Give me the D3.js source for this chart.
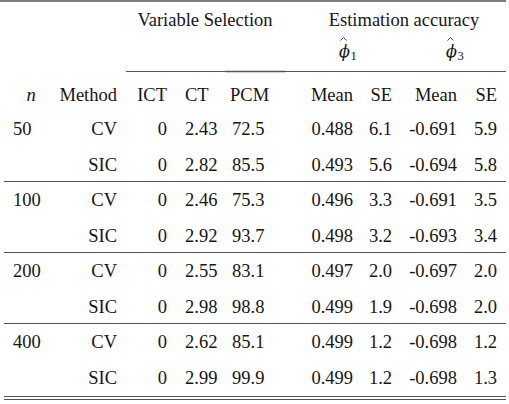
<!DOCTYPE html>
<html>
<head>
    <script src="https://cdn.jsdelivr.net/npm/d3@7"></script>
    <style>
        body {
            margin: 0;
            background: white;
        }
        svg text {
            font-family: "Liberation Serif", "DejaVu Serif", serif;
            font-size: 18.5px;
            fill: #151515;
        }
    </style>
</head>
<body>
<svg id="table"></svg>
<script>
    // table values, one array per column
    let sampleSizes = ["50", "", "100", "", "200", "", "400", ""];
    let methods = ["CV", "SIC", "CV", "SIC", "CV", "SIC", "CV", "SIC"];
    let ict = ["0", "0", "0", "0", "0", "0", "0", "0"];
    let ct = ["2.43", "2.82", "2.46", "2.92", "2.55", "2.98", "2.62", "2.99"];
    let pcm = ["72.5", "85.5", "75.3", "93.7", "83.1", "98.8", "85.1", "99.9"];
    let phi1Mean = ["0.488", "0.493", "0.496", "0.498", "0.497", "0.499", "0.499", "0.499"];
    let phi1SE = ["6.1", "5.6", "3.3", "3.2", "2.0", "1.9", "1.2", "1.2"];
    let phi3Mean = ["-0.691", "-0.694", "-0.691", "-0.693", "-0.697", "-0.698", "-0.698", "-0.698"];
    let phi3SE = ["5.9", "5.8", "3.5", "3.4", "2.0", "2.0", "1.2", "1.3"];
    let columnHeaders = ["n", "Method", "ICT", "CT", "PCM", "Mean", "SE", "Mean", "SE"];
    let groupHeaders = ["Variable Selection", "Estimation accuracy"];
    let phiSubscripts = ["1", "3"];

    function getConfig() {
        let width = 509;
        let height = 404;
        let container = d3.select("#table")
            .attr("width", width)
            .attr("height", height);
        return { width, height, container };
    }

    function getScales() {
        // row index -> text baseline
        let yScale = d3.scaleLinear()
            .domain([0, 7])
            .range([135, 384]);

        // column key -> x anchor
        let keys = ["n", "method", "ict", "ct", "pcm", "m1", "se1", "m3", "se3"];
        let xScale = d3.scaleOrdinal()
            .domain(keys)
            .range([13, 117, 167, 185, 232, 353, 392, 457, 497]);
        let anchor = d3.scaleOrdinal()
            .domain(keys)
            .range(["start", "end", "end", "start", "start", "end", "end", "end", "end"]);

        return { yScale, xScale, anchor, keys };
    }

    function drawRules(config) {
        let { container } = config;
        let rules = [
            { x1: 0, x2: 506, y: 1, w: 1.6 },
            { x1: 126, x2: 506, y: 71.5, w: 1 },
            { x1: 225, x2: 285, y: 71.5, w: 1.5 },
            { x1: 4, x2: 506, y: 181.5, w: 1 },
            { x1: 4, x2: 506, y: 252.5, w: 1 },
            { x1: 4, x2: 506, y: 323.5, w: 1 },
            { x1: 4, x2: 506, y: 396.5, w: 1 },
            { x1: 4, x2: 506, y: 399.5, w: 1 }
        ];
        container.selectAll(".rule")
            .data(rules)
            .enter().append("line")
            .attr("class", "rule")
            .attr("x1", d => d.x1)
            .attr("x2", d => d.x2)
            .attr("y1", d => d.y)
            .attr("y2", d => d.y)
            .style("stroke", "#555")
            .style("stroke-width", d => d.w);
    }

    function drawHeaders(scales, config) {
        let { container } = config;
        let { xScale, anchor, keys } = scales;

        container.selectAll(".group")
            .data(groupHeaders)
            .enter().append("text")
            .attr("class", "group")
            .attr("x", (d, i) => [205, 404][i])
            .attr("y", 26)
            .style("text-anchor", "middle")
            .text(d => d);

        // phi hat headers: symbol, drawn hat, subscript
        let phi = container.selectAll(".phi")
            .data(phiSubscripts)
            .enter().append("g")
            .attr("class", "phi")
            .attr("transform", (d, i) => `translate(${[350, 457][i]},57)`);
        phi.append("text")
            .attr("x", 0)
            .attr("y", 0)
            .style("font-style", "italic")
            .style("font-family", "'DejaVu Serif', serif")
            .style("font-size", "16px")
            .style("text-anchor", "end")
            .text("\u03D5");
        phi.append("path")
            .attr("d", "M-9.5,-16.5 L-6.5,-19.5 L-3.5,-16.5")
            .style("fill", "none")
            .style("stroke", "#333")
            .style("stroke-width", 0.9);
        phi.append("text")
            .attr("x", 0.5)
            .attr("y", 3)
            .style("font-size", "12.5px")
            .text(d => d);

        container.selectAll(".colhead")
            .data(columnHeaders)
            .enter().append("text")
            .attr("class", "colhead")
            .attr("x", (d, i) => i == 0 ? 31 : (i == 4 ? 230 : xScale(keys[i])))
            .attr("y", 101)
            .style("text-anchor", (d, i) => i == 0 ? "middle" : anchor(keys[i]))
            .style("font-style", (d, i) => i == 0 ? "italic" : "normal")
            .text(d => d);
    }

    function drawBody(scales, config) {
        let { container } = config;
        let { xScale, yScale, anchor, keys } = scales;
        let columns = [sampleSizes, methods, ict, ct, pcm, phi1Mean, phi1SE, phi3Mean, phi3SE];

        let rows = container.selectAll(".row")
            .data(d3.range(methods.length))
            .enter().append("g")
            .attr("class", "row")
            .attr("transform", r => `translate(0,${yScale(r)})`);

        rows.selectAll("text")
            .data(r => columns.map((col, c) => ({ key: keys[c], value: col[r] })))
            .enter().append("text")
            .attr("x", d => xScale(d.key))
            .attr("y", 0)
            .style("text-anchor", d => anchor(d.key))
            .text(d => d.value);
    }

    let config = getConfig();
    let scales = getScales();
    drawRules(config);
    drawHeaders(scales, config);
    drawBody(scales, config);
</script>
</body>
</html>
